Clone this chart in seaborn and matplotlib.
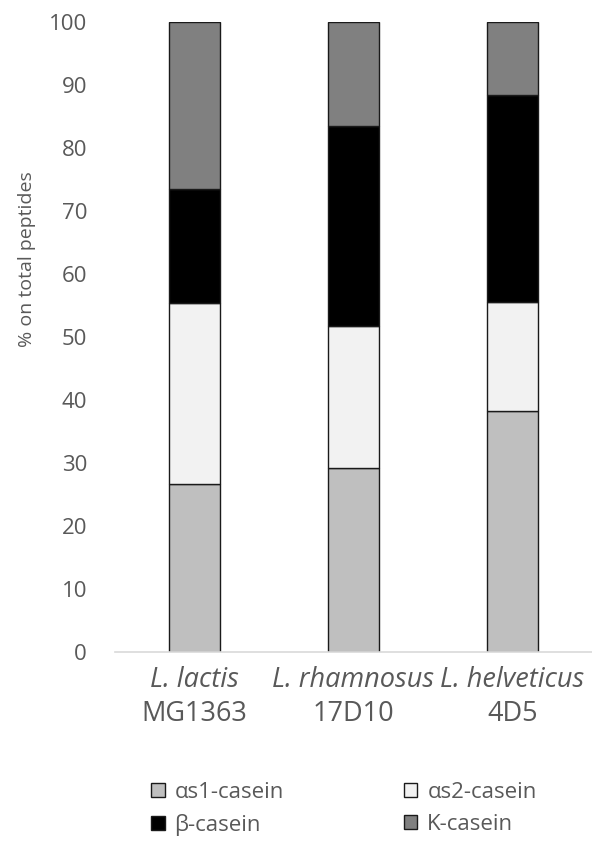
import matplotlib
matplotlib.use("Agg")
import matplotlib.pyplot as plt
import seaborn as sns
from matplotlib.patches import Patch


# strains (species in italic + strain code below)
species = ["L. lactis", "L. rhamnosus", "L. helveticus"]
strains = ["MG1363", "17D10", "4D5"]

# % of total peptides per casein fraction
caseins = ["\u03b1s1-casein", "\u03b1s2-casein", "\u03b2-casein", "K-casein"]
as1 = [26.7, 29.2, 38.3]
as2 = [28.7, 22.5, 17.3]
beta = [18.1, 31.8, 32.8]
kappa = [26.5, 16.5, 11.6]
colors = ["#bfbfbf", "#f2f2f2", "#000000", "#808080"]

sns.set_theme(style="white")
plt.rcParams["font.family"] = ["Open Sans", "DejaVu Sans"]

fig = plt.figure(figsize=(5.92, 8.43), dpi=100)
ax = fig.add_axes([0.194, 0.2266, 0.806, 0.7474])

bottom = [0.0, 0.0, 0.0]
for vals, col in zip([as1, as2, beta, kappa], colors):
    sns.barplot(x=species, y=vals, bottom=bottom, color=col, width=0.32,
                edgecolor="#1a1a1a", linewidth=1.0, saturation=1, ax=ax)
    bottom = [b + v for b, v in zip(bottom, vals)]

ax.set_ylim(0, 100)
ax.set_yticks(range(0, 101, 10))
ax.set_xlim(-0.5, 2.5)
for s in ["top", "right", "left"]:
    ax.spines[s].set_visible(False)
ax.spines["bottom"].set_color("#d9d9d9")
ax.spines["bottom"].set_linewidth(1.2)
ax.tick_params(axis="y", length=0, pad=20, labelsize=16, labelcolor="#595959")
ax.tick_params(axis="x", length=0, pad=10, labelsize=19.5, labelcolor="#595959")
for t in ax.get_xticklabels():
    t.set_fontstyle("italic")
ax.set_xlabel("")

for i, s in enumerate(strains):
    ax.text(i, -0.0985, s, transform=ax.get_xaxis_transform(), ha="center",
            va="center", fontsize=19.5, color="#595959")

ax.set_ylabel("% on total peptides", fontsize=14, color="#595959")
ax.yaxis.set_label_coords(-0.165, 0.624)

handles = [Patch(facecolor=c, edgecolor="#1a1a1a", label=l)
           for c, l in zip(colors, caseins)]
order = [0, 2, 1, 3]
fig.legend([handles[i] for i in order], [caseins[i] for i in order],
           ncol=2, loc="center", bbox_to_anchor=(0.581, 0.0403), frameon=False,
           fontsize=16, labelcolor="#595959", handlelength=0.6, handleheight=0.6,
           handletextpad=0.45, columnspacing=5.4, labelspacing=0.5)

fig.savefig("out.png", dpi=100)
